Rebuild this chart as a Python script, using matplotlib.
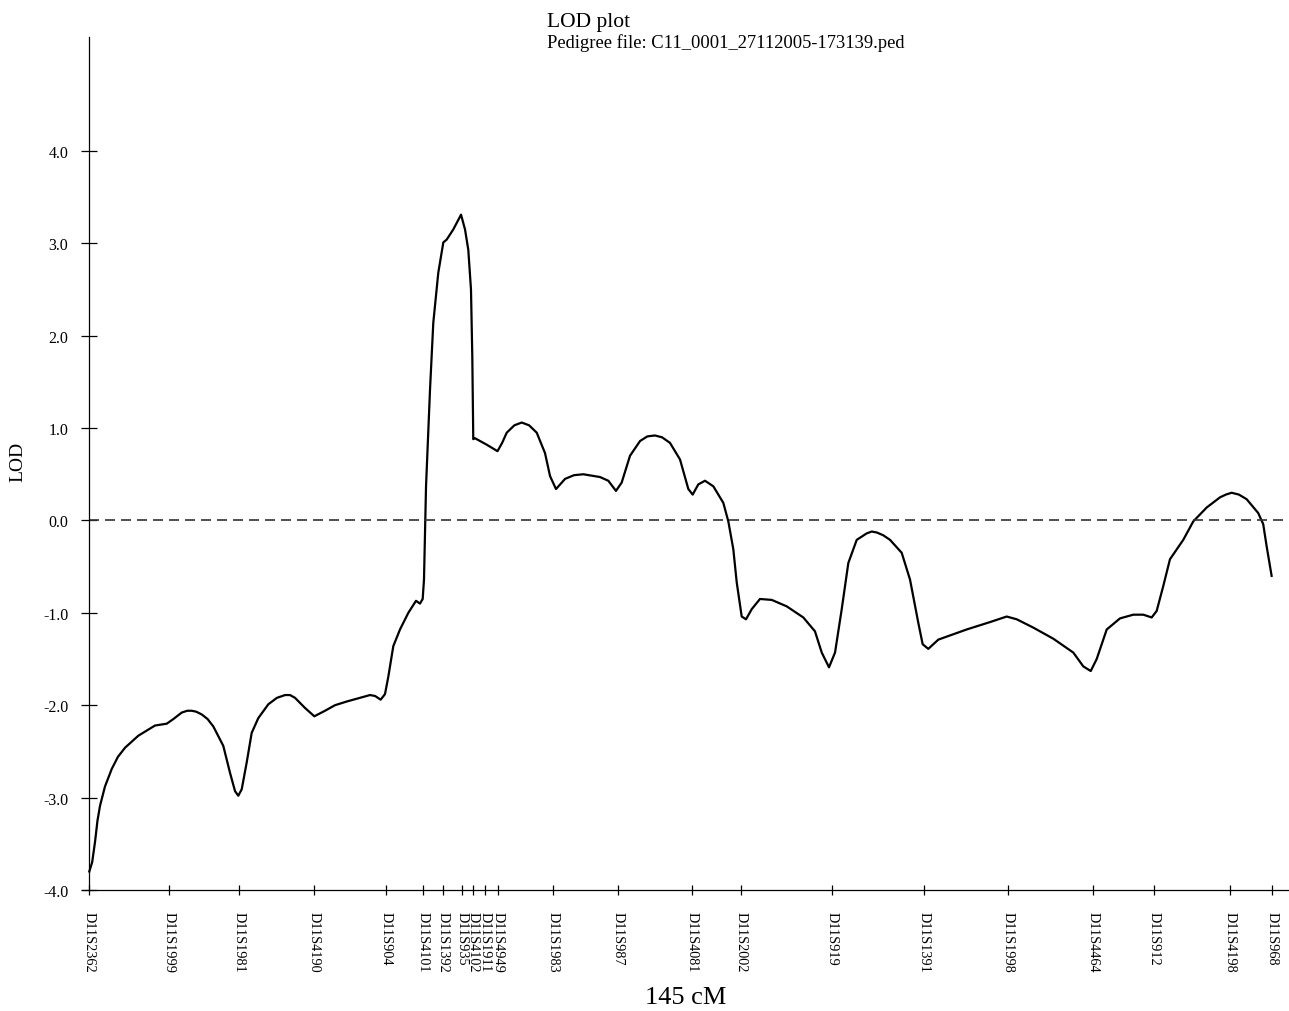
import matplotlib
matplotlib.use("Agg")
import matplotlib.pyplot as plt

plt.rcParams["font.family"] = ["Liberation Serif", "DejaVu Serif"]

# marker map (cM)
markers = ["D11S2362", "D11S1999", "D11S1981", "D11S4190", "D11S904", "D11S4101",
           "D11S1392", "D11S935", "D11S4102", "D11S1911", "D11S4949", "D11S1983",
           "D11S987", "D11S4081", "D11S2002", "D11S919", "D11S1391", "D11S1998",
           "D11S4464", "D11S912", "D11S4198", "D11S968"]
marker_cm = [0.0, 9.77, 18.35, 27.54, 36.33, 40.86, 43.39, 45.64, 46.99, 48.50,
             50.06, 56.87, 64.84, 73.87, 79.91, 90.99, 102.30, 112.60, 123.05,
             130.53, 139.84, 145.0]

# LOD curve
pos_cm = [0.0, 0.35, 0.70, 1.0, 1.31, 1.92, 2.75, 3.5, 4.38, 6.01, 8.05, 9.49, 10.30,
          11.32, 12.0, 12.55, 13.1, 13.78, 14.5, 15.20, 16.42, 17.24, 17.86, 18.26,
          18.68, 19.29, 19.90, 20.71, 21.94, 23.0, 23.99, 24.6, 25.21, 26.44, 27.58,
          28.89, 30.11, 31.55, 34.40, 35.02, 35.71, 36.24, 36.65, 37.26, 38.08,
          39.10, 40.04, 40.53, 40.86, 41.02, 41.27, 41.76, 42.16, 42.77, 43.39,
          43.80, 44.61, 45.56, 46.05, 46.45, 46.78, 46.94, 47.06, 47.27, 48.71,
          50.03, 50.6, 51.16, 52.1, 53.00, 53.9, 54.84, 55.85, 56.47, 57.20, 57.7,
          58.31, 59.4, 60.55, 62.59, 63.61, 64.55, 65.25, 66.27, 67.50, 68.4, 69.33,
          70.2, 71.17, 72.40, 73.42, 73.95, 74.64, 75.46, 76.48, 77.71, 78.32,
          78.93, 79.35, 79.96, 80.49, 81.19, 82.20, 83.64, 85.48, 87.51, 88.94,
          89.77, 90.66, 91.40, 92.22, 93.03, 94.06, 95.28, 95.9, 96.51, 97.3, 98.14,
          99.57, 100.59, 101.61, 102.14, 102.83, 104.06, 107.54, 110.40, 112.44,
          113.67, 115.70, 118.15, 120.60, 121.83, 122.74, 123.47, 124.70, 126.33,
          127.96, 129.18, 130.21, 130.82, 131.63, 132.45, 134.08, 135.31, 136.95,
          138.58, 139.3, 140.01, 140.9, 141.85, 143.27, 143.88, 144.30, 144.91]
lod = [-3.80, -3.70, -3.48, -3.25, -3.09, -2.88, -2.69, -2.56, -2.46, -2.33, -2.22,
       -2.20, -2.15, -2.08, -2.06, -2.06, -2.07, -2.10, -2.15, -2.23, -2.44, -2.73,
       -2.93, -2.98, -2.91, -2.62, -2.30, -2.14, -1.99, -1.92, -1.89, -1.89, -1.92,
       -2.03, -2.12, -2.06, -2.00, -1.96, -1.89, -1.90, -1.94, -1.88, -1.69, -1.36,
       -1.18, -1.00, -0.87, -0.90, -0.85, -0.64, 0.37, 1.42, 2.14, 2.68, 3.01, 3.04,
       3.15, 3.31, 3.15, 2.93, 2.50, 1.78, 0.88, 0.89, 0.82, 0.75, 0.84, 0.95, 1.03,
       1.06, 1.03, 0.95, 0.73, 0.48, 0.34, 0.39, 0.45, 0.49, 0.50, 0.47, 0.43, 0.32,
       0.41, 0.70, 0.86, 0.91, 0.92, 0.90, 0.84, 0.66, 0.34, 0.28, 0.39, 0.43, 0.37,
       0.19, -0.01, -0.31, -0.67, -1.04, -1.07, -0.96, -0.85, -0.86, -0.93, -1.05,
       -1.20, -1.43, -1.59, -1.43, -0.96, -0.46, -0.21, -0.14, -0.12, -0.13, -0.16,
       -0.21, -0.35, -0.64, -1.11, -1.34, -1.39, -1.29, -1.18, -1.10, -1.04, -1.07,
       -1.16, -1.28, -1.43, -1.58, -1.63, -1.50, -1.18, -1.06, -1.02, -1.02, -1.05,
       -0.98, -0.71, -0.42, -0.21, -0.01, 0.14, 0.25, 0.28, 0.30, 0.28, 0.23, 0.08,
       -0.04, -0.28, -0.60]

y_ticks = [-4.0, -3.0, -2.0, -1.0, 0.0, 1.0, 2.0, 3.0, 4.0]
y_labels = ["-4.0", "-3.0", "-2.0", "-1.0", "0.0", "1.0", "2.0", "3.0", "4.0"]

fig = plt.figure(figsize=(12.89, 10.12), dpi=100)
ax = fig.add_axes([0.0634, 0.1196, 0.9366, 0.8429])

ax.plot(pos_cm, lod, color="black", lw=1.6, solid_joinstyle="round")
ax.axhline(0, xmin=0.0063, color="#333333", lw=1.2, ls=(0, (6, 3.6)))

ax.set_xlim(-0.93, 147.04)
ax.set_ylim(-4.0, 5.234)

for side in ["top", "right"]:
    ax.spines[side].set_visible(False)
ax.spines["left"].set_position(("data", 0))
ax.spines["left"].set_linewidth(0.9)
ax.spines["bottom"].set_linewidth(0.9)

ax.set_xticks(marker_cm)
ax.set_xticklabels(markers, rotation=270, fontsize=10.3)
ax.tick_params(axis="x", direction="inout", length=7, width=0.9, pad=12)

ax.set_yticks(y_ticks)
ax.set_yticklabels(y_labels, fontsize=11.5)
ax.tick_params(axis="y", direction="inout", length=12, width=0.9, pad=9)

fig.text(18 / 1289, 1 - 462 / 1012, "LOD", rotation=90, fontsize=14,
         ha="center", va="center")
fig.text(686 / 1289, 1 - 998 / 1012, "145 cM", fontsize=19, ha="center", va="center")
fig.text(547 / 1289, 1 - 27 / 1012, "LOD plot", fontsize=15.5, ha="left", va="baseline")
fig.text(547 / 1289, 1 - 48.5 / 1012, "Pedigree file: C11_0001_27112005-173139.ped",
         fontsize=13.3, ha="left", va="baseline")

fig.savefig("out.png", dpi=100)
